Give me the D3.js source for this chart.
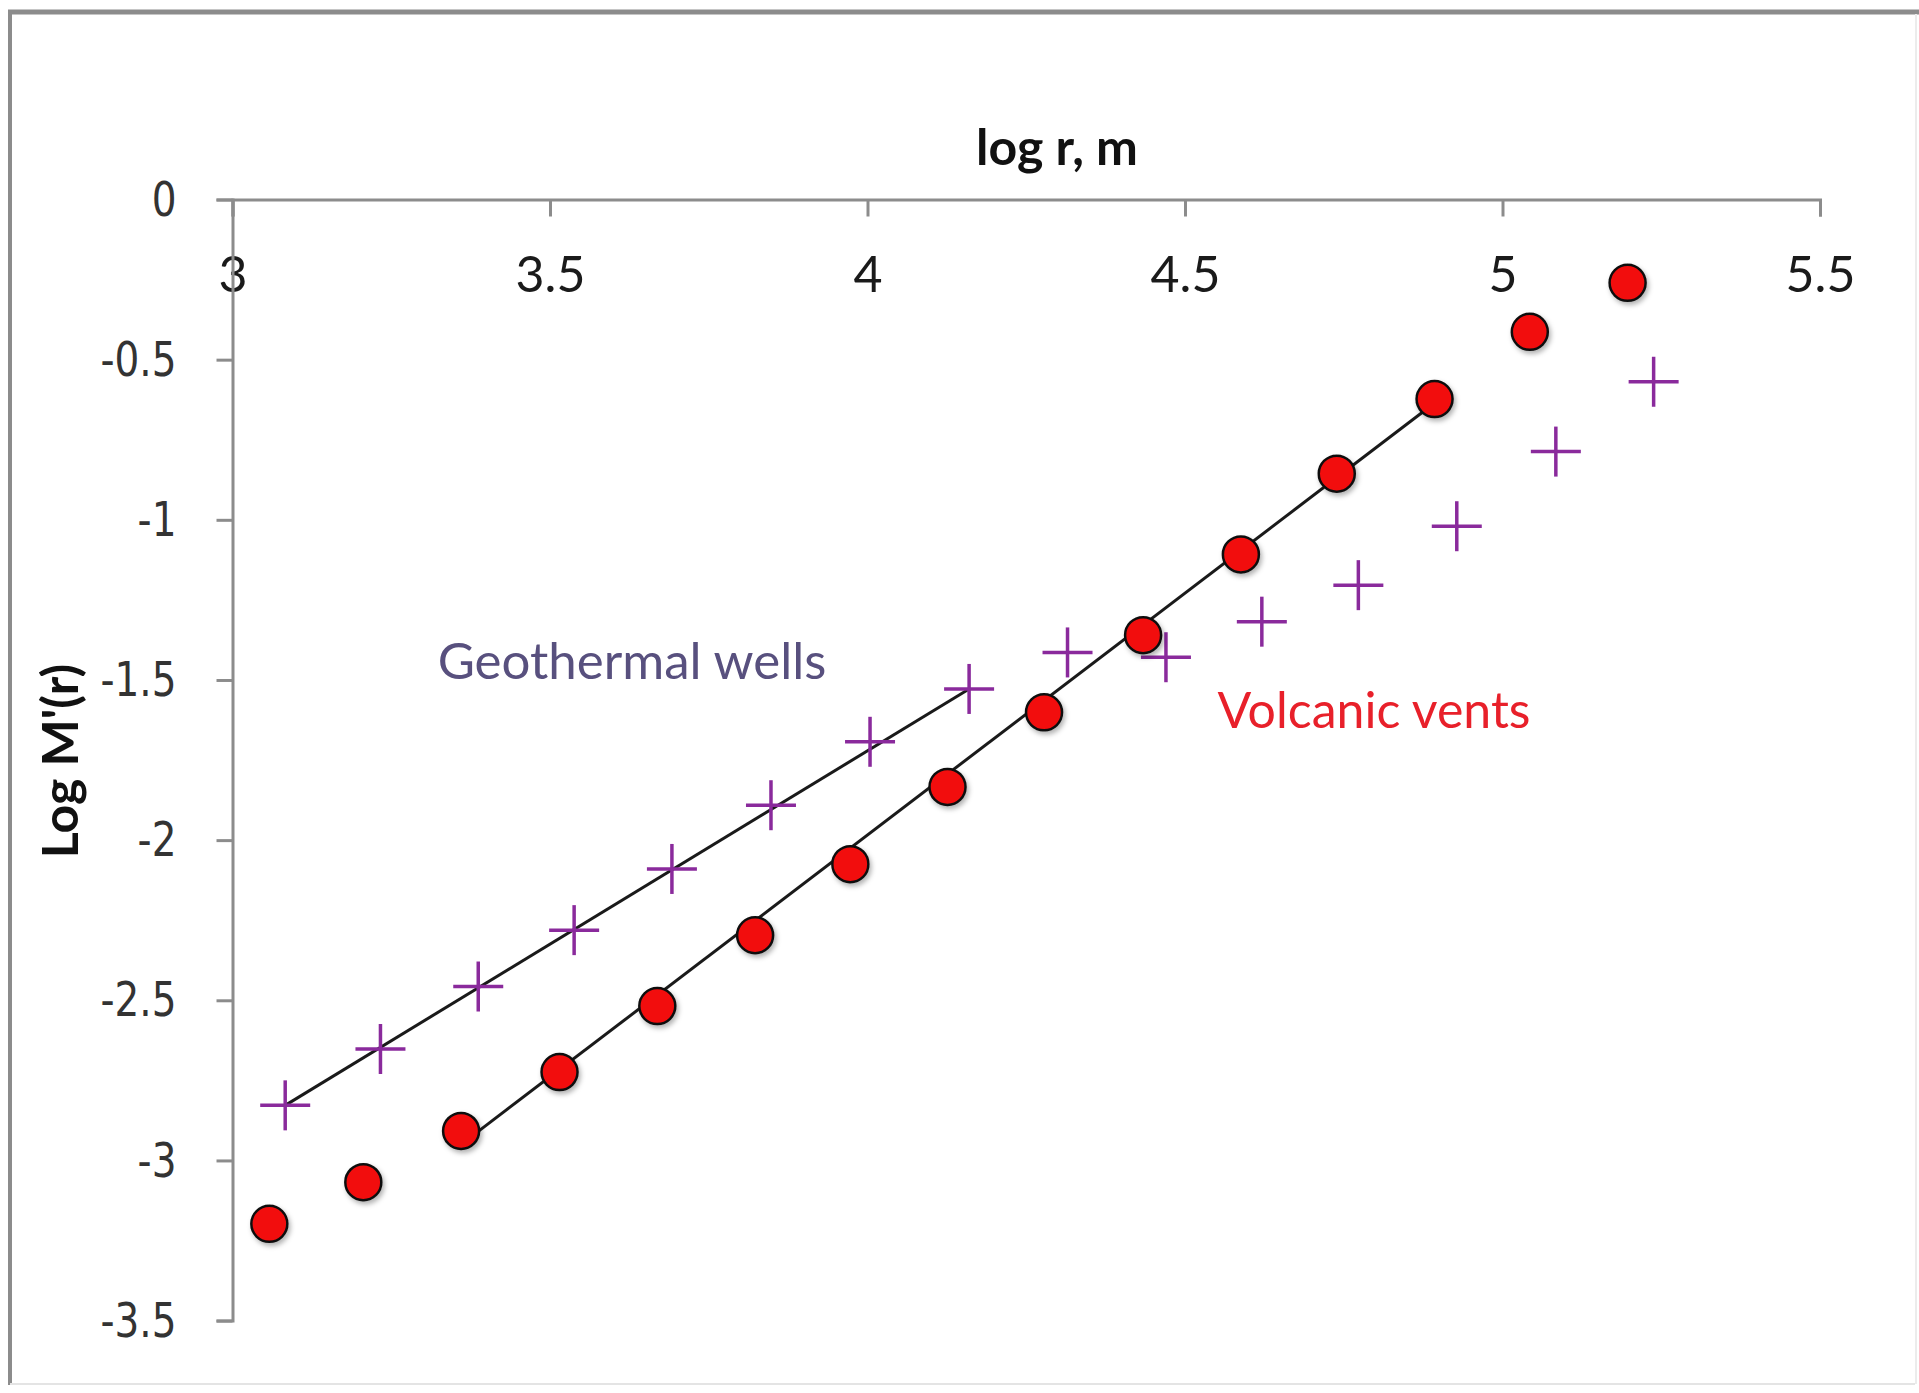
<!DOCTYPE html>
<html>
<head>
<meta charset="utf-8">
<script src="https://cdn.jsdelivr.net/npm/d3@7"></script>
<style>
  body { margin: 0; background: #fff; }
  svg { display: block; }
</style>
</head>
<body>
<div class="chart"></div>
<script>
// values
const volcanicX = [3.058, 3.206, 3.360, 3.515, 3.669, 3.823, 3.973, 4.126, 4.278, 4.434, 4.588, 4.739, 4.893, 5.043, 5.197]
const volcanicY = [-3.198, -3.068, -2.908, -2.724, -2.518, -2.297, -2.075, -1.834, -1.601, -1.360, -1.108, -0.856, -0.623, -0.413, -0.260]
const geoX = [3.083, 3.233, 3.387, 3.538, 3.692, 3.848, 4.004, 4.160, 4.315, 4.470, 4.621, 4.773, 4.928, 5.084, 5.238]
const geoY = [-2.828, -2.652, -2.457, -2.281, -2.090, -1.891, -1.693, -1.528, -1.414, -1.429, -1.318, -1.204, -1.020, -0.787, -0.569]

// trend line end points
const volcanicFitX = [3.37, 4.89]
const volcanicFitY = [-2.935, -0.64]
const geoFitX = [3.083, 4.160]
const geoFitY = [-2.828, -1.528]

const xTicks = [3, 3.5, 4, 4.5, 5, 5.5]
const yTicks = [0, -0.5, -1, -1.5, -2, -2.5, -3, -3.5]

const width = 1919
const height = 1393
const margin = { top: 199.5, left: 232.5, right: 99, bottom: 72.4 }

const svg = d3.select('.chart')
  .append('svg')
  .attr('width', width)
  .attr('height', height)

// drop shadow for the markers
const defs = svg.append('defs')
const shadow = defs.append('filter').attr('id', 'shadow')
  .attr('x', '-50%').attr('y', '-50%').attr('width', '200%').attr('height', '200%')
shadow.append('feDropShadow')
  .attr('dx', 2).attr('dy', 3).attr('stdDeviation', 2.5)
  .attr('flood-color', '#000').attr('flood-opacity', 0.3)

// frame
svg.append('line').attr('x1', 8).attr('x2', 1919).attr('y1', 12).attr('y2', 12)
  .attr('stroke', '#8c8c8c').attr('stroke-width', 5)
svg.append('line').attr('x1', 10).attr('x2', 10).attr('y1', 10).attr('y2', 1385)
  .attr('stroke', '#8c8c8c').attr('stroke-width', 4)
svg.append('line').attr('x1', 10).attr('x2', 1915).attr('y1', 1384).attr('y2', 1384)
  .attr('stroke', '#e4e4e4').attr('stroke-width', 2)
svg.append('line').attr('x1', 1916).attr('x2', 1916).attr('y1', 14).attr('y2', 1384)
  .attr('stroke', '#ececec').attr('stroke-width', 2)

// scales
const xScale = d3.scaleLinear()
  .domain([3, 5.5])
  .range([margin.left, width - margin.right])

const yScale = d3.scaleLinear()
  .domain([-3.5, 0])
  .range([height - margin.bottom, margin.top])

// plain hyphen for negatives, like the original
const fmt = d => String(d)

// axes
const xAxis = d3.axisBottom(xScale)
  .tickValues(xTicks)
  .tickFormat(fmt)
  .tickSize(17)
  .tickPadding(40)

const yAxis = d3.axisLeft(yScale)
  .tickValues(yTicks)
  .tickFormat(fmt)
  .tickSize(16)
  .tickPadding(40)

const gx = svg.append('g')
  .attr('id', 'x-axis')
  .attr('transform', `translate(0,${yScale(0)})`)
  .call(xAxis)

gx.selectAll('text')
  .attr('font-family', 'Lato, sans-serif')
  .attr('font-size', 50)
  .attr('fill', '#1a1a1a')

const gy = svg.append('g')
  .attr('id', 'y-axis')
  .attr('transform', `translate(${xScale(3)},0)`)
  .call(yAxis)

gy.selectAll('text')
  .attr('font-family', '"DejaVu Sans", Verdana, sans-serif')
  .attr('font-size', 39)
  .attr('fill', '#333')
  .attr('transform', 'scale(1,1.22)')
  .attr('dy', '0.33em')

svg.selectAll('#x-axis path, #x-axis line, #y-axis path, #y-axis line')
  .attr('stroke', '#8c8c8c')
  .attr('stroke-width', 3)

// axis titles
svg.append('text')
  .text('log r, m')
  .attr('x', 1057)
  .attr('y', 165)
  .attr('text-anchor', 'middle')
  .attr('font-family', 'Lato, sans-serif')
  .attr('font-weight', 'bold')
  .attr('font-size', 50)
  .attr('fill', '#111')

svg.append('text')
  .text("Log M'(r)")
  .attr('transform', 'translate(78,761) rotate(-90)')
  .attr('text-anchor', 'middle')
  .attr('font-family', 'Lato, sans-serif')
  .attr('font-weight', 'bold')
  .attr('font-size', 50)
  .attr('fill', '#111')

// trend lines
const line = d3.line()
  .x(d => xScale(d[0]))
  .y(d => yScale(d[1]))

svg.append('path')
  .datum(d3.zip(geoFitX, geoFitY))
  .attr('d', line)
  .attr('fill', 'none')
  .attr('stroke', '#1a1a1a')
  .attr('stroke-width', 3)

svg.append('path')
  .datum(d3.zip(volcanicFitX, volcanicFitY))
  .attr('d', line)
  .attr('fill', 'none')
  .attr('stroke', '#1a1a1a')
  .attr('stroke-width', 3)

// geothermal wells: purple crosses
const crossHalf = 25
const geoData = d3.zip(geoX, geoY)
const crosses = svg.selectAll('.cross')
  .data(geoData)
  .join('g')
  .attr('class', 'cross')
  .attr('transform', d => `translate(${xScale(d[0])},${yScale(d[1])})`)

crosses.append('line')
  .attr('x1', -crossHalf).attr('x2', crossHalf)
  .attr('stroke', '#8a2a9c').attr('stroke-width', 3.5)
crosses.append('line')
  .attr('y1', -crossHalf).attr('y2', crossHalf)
  .attr('stroke', '#8a2a9c').attr('stroke-width', 3.5)

// volcanic vents: red circles
svg.selectAll('.dot')
  .data(d3.zip(volcanicX, volcanicY))
  .join('circle')
  .attr('class', 'dot')
  .attr('cx', d => xScale(d[0]))
  .attr('cy', d => yScale(d[1]))
  .attr('r', 18)
  .attr('fill', '#f20d0d')
  .attr('stroke', '#111')
  .attr('stroke-width', 2.5)
  .attr('filter', 'url(#shadow)')

// series labels
svg.append('text')
  .text('Geothermal wells')
  .attr('x', 632)
  .attr('y', 679)
  .attr('text-anchor', 'middle')
  .attr('font-family', 'Lato, sans-serif')
  .attr('font-size', 51)
  .attr('fill', '#58507e')

svg.append('text')
  .text('Volcanic vents')
  .attr('x', 1374)
  .attr('y', 728)
  .attr('text-anchor', 'middle')
  .attr('font-family', 'Lato, sans-serif')
  .attr('font-size', 50)
  .attr('fill', '#e8202a')
</script>
</body>
</html>
